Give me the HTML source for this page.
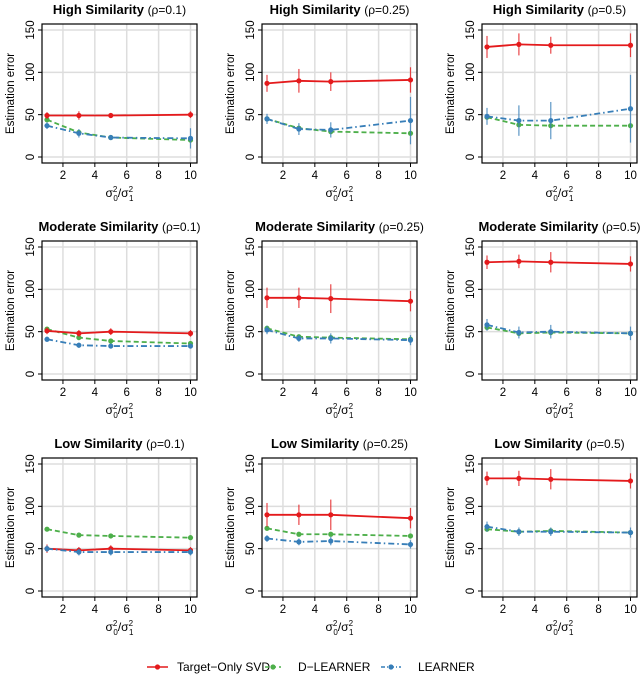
<!DOCTYPE html>
<html><head><meta charset="utf-8"><style>
body{margin:0;background:#fff;font-family:"Liberation Sans",sans-serif}
svg text{font-family:"Liberation Sans","DejaVu Sans",sans-serif}
</style></head><body>
<svg id="c" width="640" height="675" xmlns="http://www.w3.org/2000/svg"></svg>
<script>
const xVals=[1,3,5,10];
const xTicks=[2,4,6,8,10];
const yTicks=[0,50,100,150];
const titles=["High Similarity","High Similarity","High Similarity","Moderate Similarity","Moderate Similarity","Moderate Similarity","Low Similarity","Low Similarity","Low Similarity"];
const rhos=["0.1","0.25","0.5","0.1","0.25","0.5","0.1","0.25","0.5"];
const redVals=[[49,49,49,50],[87,90,89,91],[130,133,132,132],[51,48,50,48],[90,90,89,86],[132,133,132,130],[50,48,50,48],[90,90,90,86],[133,133,132,130]];
const redErr=[[4,5,3,4],[10,14,11,15],[13,13,10,14],[4,4,4,4],[12,12,17,12],[8,8,12,9],[5,4,4,4],[14,12,18,12],[8,9,12,9]];
const greenVals=[[44,29,23,20],[45,34,30,28],[47,38,37,37],[53,43,39,36],[54,44,43,41],[55,48,49,48],[73,66,65,63],[74,67,67,65],[73,70,71,69]];
const blueVals=[[37,28,23,22],[45,33,32,43],[48,43,43,57],[41,34,33,33],[52,42,42,40],[58,49,50,48],[50,46,46,46],[62,58,59,55],[76,70,70,69]];
const blueErr=[[4,5,3,12],[6,7,9,28],[10,18,22,40],[3,3,3,3],[5,4,6,6],[7,7,8,8],[4,4,4,4],[4,4,5,5],[6,5,5,6]];
const svg=document.getElementById('c');const NS='http://www.w3.org/2000/svg';
function mk(t,a,p){const e=document.createElementNS(NS,t);for(const k in a)e.setAttribute(k,a[k]);(p||svg).appendChild(e);return e;}
const RED='#e41a1c',GREEN='#4daf4a',BLUE='#377eb8';
for(let i=0;i<9;i++){
 const col=i%3,row=Math.floor(i/3);
 const L=42+col*220,R=L+155,T=24+row*217,B=T+139;
 const xs=v=>47+col*220+(v-1)*(143.5/9);
 const ys=v=>157+row*217-v*(127/150);
 const g=mk('g',{});
 
 
 const t=mk('text',{x:(L+R)/2,y:T-10,'text-anchor':'middle','font-size':13},g);
 
 
 t.innerHTML='<tspan font-weight="bold">'+titles[i]+'</tspan> <tspan font-size="12">(ρ='+rhos[i]+')</tspan>';
 xTicks.forEach(v=>{mk('line',{x1:xs(v),x2:xs(v),y1:T,y2:B,stroke:'#ddd','stroke-width':1.5},g);
  mk('line',{x1:xs(v),x2:xs(v),y1:B,y2:B+4,stroke:'#000'},g);
  const tx=mk('text',{x:xs(v),y:B+16,'text-anchor':'middle','font-size':11.5},g);tx.textContent=v;
  });
 yTicks.forEach(v=>{mk('line',{x1:L,x2:R,y1:ys(v),y2:ys(v),stroke:'#ddd','stroke-width':1.5},g);
  mk('line',{x1:L-4,x2:L,y1:ys(v),y2:ys(v),stroke:'#000'},g);
  const tx=mk('text',{x:L-8,y:ys(v),'text-anchor':'middle','font-size':11.5,transform:`rotate(-90 ${L-8} ${ys(v)})`},g);tx.textContent=v;
  });
 mk('rect',{x:L,y:T,width:R-L,height:B-T,fill:'none',stroke:'#000','stroke-width':1.2},g);
 const yl=mk('text',{x:L-28,y:(T+B)/2,'text-anchor':'middle','font-size':11.5,transform:`rotate(-90 ${L-28} ${(T+B)/2})`},g);yl.textContent='Estimation error';
 
 const xl=mk('text',{x:(L+R)/2,y:B+34,'text-anchor':'middle','font-size':12},g);
 xl.innerHTML='σ<tspan font-size="8" dy="-5">2</tspan><tspan font-size="8" dx="-4" dy="9">0</tspan><tspan dy="-4">/σ</tspan><tspan font-size="8" dy="-5">2</tspan><tspan font-size="8" dx="-4" dy="9">1</tspan>';
 
 const series=[[greenVals[i],null,GREEN,'5,3','green'],[redVals[i],redErr[i],RED,'','red'],[blueVals[i],blueErr[i],BLUE,'6,3,1.5,3','blue']];
 series.forEach(([vals,err,c,d,n])=>{
  const pl=mk('polyline',{points:xVals.map((x,k)=>xs(x)+','+ys(vals[k])).join(' '),fill:'none',stroke:c,'stroke-width':1.8,'stroke-dasharray':d},g);
  
  xVals.forEach((x,k)=>{
   const e=err?err[k]:2;
   mk('line',{x1:xs(x),x2:xs(x),y1:ys(vals[k]-e),y2:ys(vals[k]+e),stroke:c,'stroke-width':1.2,opacity:.8},g);
   const p=mk('circle',{cx:xs(x),cy:ys(vals[k]),r:2.6,fill:c},g);
   
  });
 });
}
const lg=mk('g',{});


[[147,168,177,'Target−Only SVD',RED,''],[265,281,298,'D−LEARNER',GREEN,'4,3'],[381,401,418,'LEARNER',BLUE,'4,2,1,2']].forEach(([x,x2,tx,l,c,d])=>{
 mk('line',{x1:x,x2:x2,y1:667,y2:667,stroke:c,'stroke-width':1.5,'stroke-dasharray':d},lg);
 mk('circle',{cx:(x+x2)/2,cy:667,r:2.6,fill:c},lg);
 const t=mk('text',{x:tx,y:671,'font-size':12},lg);t.textContent=l;
 
});
</script>
</body></html>
